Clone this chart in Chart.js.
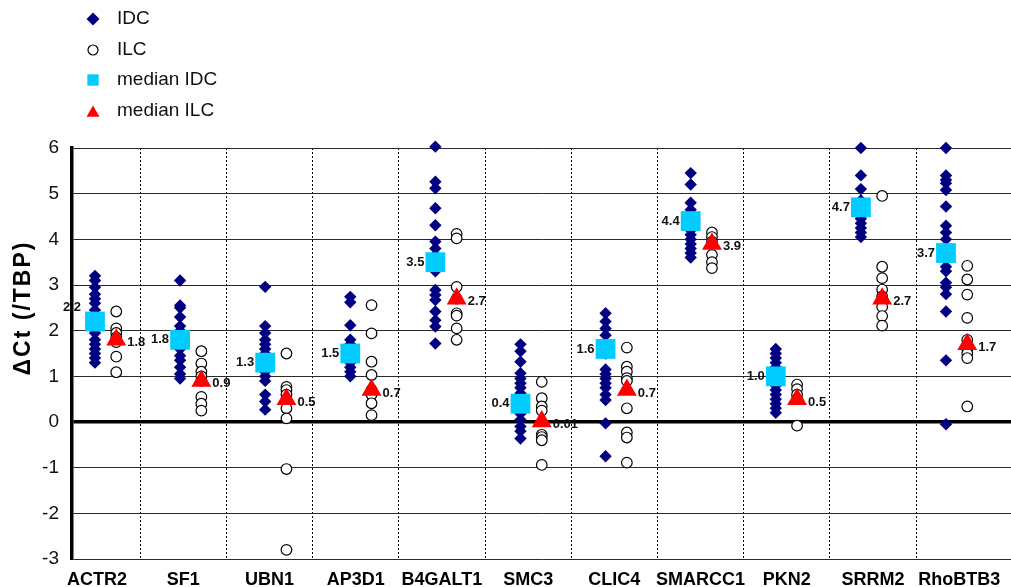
<!DOCTYPE html>
<html>
<head>
<meta charset="utf-8">
<script src="https://cdn.jsdelivr.net/npm/chart.js@4.4.1/dist/chart.umd.min.js"></script>
<style>
  html, body { margin: 0; padding: 0; background: #fff; }
</style>
</head>
<body>
<canvas id="deltaCt" width="1011" height="587"></canvas>
<script>
const genes = ["ACTR2", "SF1", "UBN1", "AP3D1", "B4GALT1", "SMC3", "CLIC4", "SMARCC1", "PKN2", "SRRM2", "RhoBTB3"];

const idcValues = [
  [3.2, 3.1, 2.95, 2.8, 2.7, 2.6, 2.45, 2.3, 2.2, 2.1, 1.95, 1.8, 1.7, 1.6, 1.5, 1.4, 1.3],
  [3.1, 2.55, 2.5, 2.3, 2.1, 2.0, 1.8, 1.6, 1.45, 1.35, 1.2, 1.05, 0.95],
  [2.96, 2.1, 1.95, 1.8, 1.7, 1.6, 1.5, 1.4, 1.2, 1.1, 1.0, 0.9, 0.6, 0.45, 0.27],
  [2.74, 2.62, 2.12, 1.8, 1.7, 1.6, 1.5, 1.4, 1.3, 1.2, 1.1, 1.0],
  [6.03, 5.26, 5.12, 4.68, 4.31, 3.95, 3.8, 3.65, 3.5, 3.3, 2.89, 2.78, 2.67, 2.42, 2.23, 2.09, 1.72],
  [1.7, 1.55, 1.32, 1.07, 0.95, 0.85, 0.75, 0.63, 0.5, 0.4, 0.3, 0.18, 0.05, -0.1, -0.2, -0.36],
  [2.38, 2.2, 2.05, 1.9, 1.6, 1.5, 1.15, 1.05, 0.95, 0.85, 0.75, 0.6, 0.48, -0.03, -0.75],
  [5.45, 5.2, 4.8, 4.65, 4.5, 4.35, 4.2, 4.1, 4.0, 3.9, 3.8, 3.7, 3.6],
  [1.6, 1.5, 1.4, 1.3, 1.2, 1.1, 0.9, 0.8, 0.7, 0.6, 0.5, 0.4, 0.3, 0.2],
  [6.0, 5.4, 5.1, 4.85, 4.7, 4.55, 4.45, 4.35, 4.25, 4.15, 4.05],
  [6.0, 5.4, 5.3, 5.23, 5.08, 4.72, 4.3, 4.15, 4.0, 3.4, 3.3, 3.05, 2.95, 2.8, 2.42, 1.35, -0.05]
];

const ilcValues = [
  [2.42, 2.05, 1.95, 1.85, 1.75, 1.43, 1.09],
  [1.55, 1.28, 1.1, 1.0, 0.9, 0.55, 0.4, 0.25],
  [1.5, 0.77, 0.7, 0.6, 0.3, 0.08, -1.03, -2.8],
  [2.56, 1.94, 1.32, 1.03, 0.7, 0.6, 0.41, 0.15],
  [4.12, 4.02, 2.96, 2.7, 2.38, 2.33, 2.05, 1.8],
  [0.88, 0.52, 0.34, 0.25, -0.28, -0.33, -0.4, -0.94],
  [1.63, 1.21, 1.1, 0.96, 0.9, 0.3, -0.23, -0.34, -0.89],
  [4.15, 4.05, 3.95, 3.66, 3.5, 3.37],
  [0.82, 0.72, 0.6, 0.5, -0.08],
  [4.95, 3.4, 3.15, 2.9, 2.75, 2.52, 2.32, 2.11],
  [3.42, 3.12, 2.79, 2.28, 1.8, 1.6, 1.5, 1.4, 0.34]
];

const medianIdc = [2.2, 1.8, 1.3, 1.5, 3.5, 0.4, 1.6, 4.4, 1.0, 4.7, 3.7];
const medianIlc = [1.8, 0.9, 0.5, 0.7, 2.7, 0.01, 0.7, 3.9, 0.5, 2.7, 1.7];

const yTicks = [-3, -2, -1, 0, 1, 2, 3, 4, 5, 6];

// ILC points sit a quarter step to the right of IDC
const ILC_SHIFT = 0.25;
const FONT = "'Liberation Sans', Arial, Helvetica, sans-serif";

const idcPoints = idcValues.flatMap((vals, i) => vals.map(v => ({ x: i, y: v })));
const ilcPoints = ilcValues.flatMap((vals, i) => vals.map(v => ({ x: i + ILC_SHIFT, y: v })));
const medIdcPoints = medianIdc.map((v, i) => ({ x: i, y: v }));
const medIlcPoints = medianIlc.map((v, i) => ({ x: i + ILC_SHIFT, y: v }));

function fmt(v) {
  return v > 0 && v < 0.1 ? v.toFixed(2) : v.toFixed(1);
}

// keep the plot running to the right edge like the original
function noSidePadding(scale) {
  scale.paddingLeft = 0;
  scale.paddingRight = 0;
  if (scale._margins) {
    scale._margins.right = 0;
    scale.width = scale.chart.width - scale._margins.left;
  }
}

const legendItems = [
  { text: "IDC", style: "rectRot", radius: 6.5, fill: "#000080", stroke: "#000080", bw: 0 },
  { text: "ILC", style: "circle", radius: 5, fill: "#fff", stroke: "#000", bw: 1.2 },
  { text: "median IDC", style: "rect", radius: 8, fill: "#00CCFF", stroke: "#00CCFF", bw: 0 },
  { text: "median ILC", style: "triangle", radius: 7.5, fill: "#FF0000", stroke: "#FF0000", bw: 0 }
];

const whiteBg = {
  id: "whiteBg",
  beforeDraw(chart) {
    const ctx = chart.ctx;
    ctx.save();
    ctx.fillStyle = "#fff";
    ctx.fillRect(0, 0, chart.width, chart.height);
    ctx.restore();
  }
};

const extras = {
  id: "extras",
  afterDatasetsDraw(chart) {
    const ctx = chart.ctx;
    const xs = chart.scales.x;
    const ys = chart.scales.y;
    ctx.save();
    ctx.fillStyle = "#111";
    ctx.font = "bold 13px " + FONT;
    ctx.textBaseline = "middle";
    medianIdc.forEach((v, i) => {
      const px = xs.getPixelForValue(i);
      const py = ys.getPixelForValue(v);
      ctx.textAlign = "right";
      if (i === 0) ctx.fillText(fmt(v), px - 14, py - 14);
      else ctx.fillText(fmt(v), px - 11, py);
    });
    medianIlc.forEach((v, i) => {
      const px = xs.getPixelForValue(i + ILC_SHIFT);
      const py = ys.getPixelForValue(v);
      ctx.textAlign = "left";
      ctx.fillText(fmt(v), px + 11, py + 3);
    });
    ctx.restore();
  },
  afterDraw(chart) {
    const ctx = chart.ctx;
    ctx.save();
    // axis title
    ctx.translate(24, 308);
    ctx.rotate(-Math.PI / 2);
    ctx.font = "bold 23px " + FONT;
    if ("letterSpacing" in ctx) ctx.letterSpacing = "2px";
    ctx.fillStyle = "#000";
    ctx.textAlign = "center";
    ctx.textBaseline = "middle";
    ctx.fillText("\u0394Ct (/TBP)", 0, 0);
    ctx.restore();

    // legend
    const rows = [19, 50, 80, 111];
    ctx.save();
    ctx.font = "19px " + FONT;
    ctx.textBaseline = "middle";
    ctx.textAlign = "left";
    legendItems.forEach((it, k) => {
      ctx.fillStyle = it.fill;
      ctx.strokeStyle = it.stroke;
      ctx.lineWidth = it.bw;
      Chart.helpers.drawPoint(ctx, { pointStyle: it.style, radius: it.radius, rotation: 0, borderWidth: it.bw }, 93, rows[k] + (it.style === "triangle" ? 2 : 0));
      ctx.fillStyle = "#111";
      ctx.fillText(it.text, 117, rows[k]);
    });
    ctx.restore();
  }
};

new Chart(document.getElementById("deltaCt"), {
  type: "scatter",
  data: {
    datasets: [
      {
        label: "IDC",
        data: idcPoints,
        pointStyle: "rectRot",
        pointRadius: 6.2,
        pointHoverRadius: 6.2,
        backgroundColor: "#000080",
        borderColor: "#000080",
        borderWidth: 0,
        clip: false,
        order: 4
      },
      {
        label: "ILC",
        data: ilcPoints,
        pointStyle: "circle",
        pointRadius: 5.3,
        pointHoverRadius: 5.3,
        backgroundColor: "#fff",
        borderColor: "#000",
        borderWidth: 1.2,
        clip: false,
        order: 3
      },
      {
        label: "median IDC",
        data: medIdcPoints,
        pointStyle: "rect",
        pointRadius: 14,
        pointHoverRadius: 14,
        backgroundColor: "#00CCFF",
        borderColor: "#00CCFF",
        borderWidth: 0,
        clip: false,
        order: 2
      },
      {
        label: "median ILC",
        data: medIlcPoints,
        pointStyle: "triangle",
        pointRadius: 11.5,
        pointHoverRadius: 11.5,
        backgroundColor: "#FF0000",
        borderColor: "#FF0000",
        borderWidth: 0,
        clip: false,
        order: 1
      }
    ]
  },
  options: {
    responsive: false,
    animation: false,
    events: [],
    layout: { autoPadding: false, padding: { top: 148, right: 0, bottom: 0, left: 0 } },
    plugins: {
      legend: { display: false },
      tooltip: { enabled: false }
    },
    scales: {
      x: {
        type: "linear",
        display: false,
        min: -0.27,
        max: 10.764,
        afterFit: noSidePadding
      },
      cat: {
        type: "linear",
        position: "bottom",
        min: -0.29,
        max: 10.6,
        afterBuildTicks: function (scale) {
          const t = [];
          for (let k = 0; k <= 20; k++) t.push({ value: k / 2 });
          scale.ticks = t;
        },
        afterFit: function (scale) {
          scale.height = 28;
          noSidePadding(scale);
        },
        ticks: {
          autoSkip: false,
          maxRotation: 0,
          padding: 10,
          color: "#000",
          font: { family: FONT, size: 18, weight: "bold" },
          callback: function (value) {
            return Number.isInteger(value) ? genes[value] : "";
          }
        },
        grid: {
          drawTicks: false,
          lineWidth: 1,
          color: function (ctx) {
            const v = ctx.tick ? ctx.tick.value : 0;
            return Number.isInteger(v) ? "rgba(0,0,0,0)" : "#000";
          }
        },
        border: { display: false, dash: [2, 2] }
      },
      y: {
        min: -3,
        max: 6,
        afterBuildTicks: function (scale) {
          scale.ticks = yTicks.map(v => ({ value: v }));
        },
        afterFit: function (scale) {
          scale.width = 72;
        },
        ticks: {
          padding: 13,
          color: "#111",
          font: { family: FONT, size: 19 }
        },
        grid: {
          drawTicks: false,
          color: function (ctx) {
            return ctx.tick && ctx.tick.value === 0 ? "#000" : "#2a2a2a";
          },
          lineWidth: function (ctx) {
            return ctx.tick && ctx.tick.value === 0 ? 3.5 : 1;
          }
        },
        border: { color: "#000", width: 3.5 }
      }
    }
  },
  plugins: [whiteBg, extras]
});
</script>
</body>
</html>
